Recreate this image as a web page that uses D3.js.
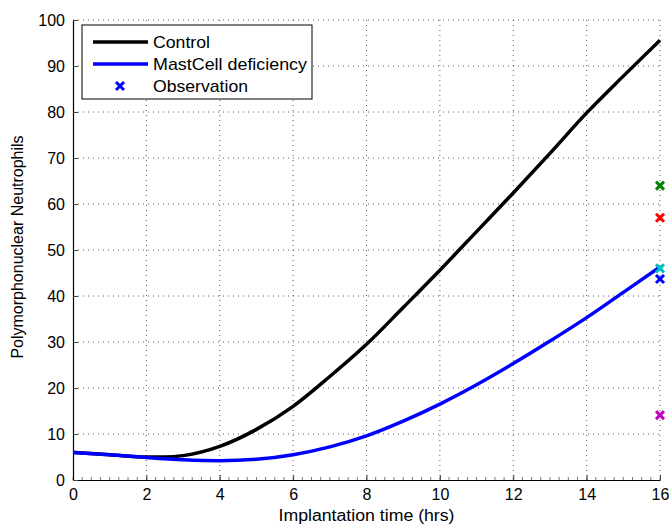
<!DOCTYPE html>
<html>
<head>
<meta charset="utf-8">
<style>
  body { margin: 0; background: #fff; }
  text { font-family: "Liberation Sans", Arial, sans-serif; }
</style>
</head>
<body>
<svg width="670" height="527"></svg>
<script src="https://cdn.jsdelivr.net/npm/d3@7/dist/d3.min.js"></script>
<script>

var times = [0, 1, 2, 2.5, 3, 4, 5, 6, 7, 8, 9, 10, 11, 12, 13, 14, 15, 16];
var control = [6, 5.5, 5, 5, 5.3, 7.3, 11, 16, 22.5, 29.5, 37.5, 45.6, 54, 62.4, 71, 79.8, 87.8, 95.6];
var mastcell = [6, 5.5, 4.9, 4.6, 4.4, 4.2, 4.5, 5.5, 7.2, 9.6, 12.8, 16.5, 20.7, 25.3, 30.2, 35.3, 40.8, 46.3];

var obsTime = 16;
var obsValues = [43.7, 64, 57, 46, 14.1];
var obsColors = ["#0000ff", "#008000", "#ff0000", "#00bfbf", "#bf00bf"];

var xTicks = [0, 2, 4, 6, 8, 10, 12, 14, 16];
var yTicks = [0, 10, 20, 30, 40, 50, 60, 70, 80, 90, 100];

var svg = d3.select("svg"),
    margin = {top: 20, right: 10, bottom: 47, left: 73},
    width = +svg.attr("width") - margin.left - margin.right,
    height = +svg.attr("height") - margin.top - margin.bottom,
    g = svg.append("g").attr("transform", "translate(" + margin.left + "," + margin.top + ")");

var x = d3.scaleLinear().domain([0, 16]).range([0, width]);
var y = d3.scaleLinear().domain([0, 100]).range([height, 0]);

// dotted grid
g.append("g")
  .selectAll("line")
  .data(xTicks.slice(1))
  .enter().append("line")
    .attr("x1", function(d) { return x(d); })
    .attr("x2", function(d) { return x(d); })
    .attr("y1", 0).attr("y2", height)
    .attr("stroke", "#333").attr("stroke-width", 0.8)
    .attr("stroke-dasharray", "1,4");

g.append("g")
  .selectAll("line")
  .data(yTicks.slice(1))
  .enter().append("line")
    .attr("x1", 0).attr("x2", width)
    .attr("y1", function(d) { return y(d); })
    .attr("y2", function(d) { return y(d); })
    .attr("stroke", "#333").attr("stroke-width", 0.8)
    .attr("stroke-dasharray", "1,4");

// minor ticks along the bottom
g.append("g")
  .selectAll("line")
  .data(d3.range(0, 16.01, 0.25))
  .enter().append("line")
    .attr("x1", function(d) { return x(d); })
    .attr("x2", function(d) { return x(d); })
    .attr("y1", height).attr("y2", height - 3)
    .attr("stroke", "#777").attr("stroke-width", 1);

// axes
var xAxis = g.append("g")
    .attr("transform", "translate(0," + height + ")")
    .call(d3.axisBottom(x).tickValues(xTicks).tickSizeInner(-5).tickSizeOuter(0).tickPadding(9));

var yAxis = g.append("g")
    .call(d3.axisLeft(y).tickValues(yTicks).tickSizeInner(-5).tickSizeOuter(0).tickPadding(8));

[xAxis, yAxis].forEach(function(a) {
  a.select(".domain").attr("stroke", "#000").attr("stroke-width", 1.2);
  a.selectAll(".tick line").attr("stroke", "#444");
  a.selectAll(".tick text").attr("font-size", 16).attr("fill", "#000")
    .style("font-family", "'Liberation Sans', Arial, sans-serif");
});
xAxis.selectAll(".tick text").attr("dy", "0.71em");

// labels
g.append("text")
    .attr("x", width / 2).attr("y", height + 41)
    .attr("text-anchor", "middle").attr("font-size", 16)
    .attr("textLength", 176).attr("lengthAdjust", "spacingAndGlyphs")
    .text("Implantation time (hrs)");

g.append("text")
    .attr("transform", "rotate(-90)")
    .attr("x", -height / 2 + 3).attr("y", -50)
    .attr("text-anchor", "middle").attr("font-size", 16)
    .text("Polymorphonuclear Neutrophils");

// curves
var line = d3.line().curve(d3.curveMonotoneX);

g.append("path")
    .datum(times.map(function(t, i) { return [x(t), y(control[i])]; }))
    .attr("fill", "none").attr("stroke", "#000").attr("stroke-width", 3.5)
    .attr("d", line);

g.append("path")
    .datum(times.map(function(t, i) { return [x(t), y(mastcell[i])]; }))
    .attr("fill", "none").attr("stroke", "#0000ff").attr("stroke-width", 3.5)
    .attr("d", line);

// observation markers
function cross(sel, cx, cy, color) {
  var s = 4;
  sel.append("path")
    .attr("d", "M" + (cx - s) + "," + (cy - s) + "L" + (cx + s) + "," + (cy + s) +
               "M" + (cx - s) + "," + (cy + s) + "L" + (cx + s) + "," + (cy - s))
    .attr("stroke", color).attr("stroke-width", 3).attr("fill", "none");
}
obsValues.forEach(function(v, i) {
  cross(g, x(obsTime), y(v), obsColors[i]);
});

// legend
var leg = svg.append("g").attr("transform", "translate(82,25)");
leg.append("rect")
    .attr("width", 230).attr("height", 74)
    .attr("fill", "#fff").attr("stroke", "#000").attr("stroke-width", 1);

var entries = ["Control", "MastCell deficiency", "Observation"];
var entryLen = [57, 154, 95];
entries.forEach(function(name, i) {
  var cy = 17 + i * 22;
  if (i < 2) {
    leg.append("line")
      .attr("x1", 11).attr("x2", 66).attr("y1", cy).attr("y2", cy)
      .attr("stroke", i === 0 ? "#000" : "#0000ff").attr("stroke-width", 3.5);
  } else {
    cross(leg, 38, cy, "#0000ff");
  }
  leg.append("text")
    .attr("x", 71).attr("y", cy).attr("dy", "0.35em")
    .attr("font-size", 17)
    .attr("textLength", entryLen[i]).attr("lengthAdjust", "spacingAndGlyphs")
    .text(name);
});

</script>
</body>
</html>
